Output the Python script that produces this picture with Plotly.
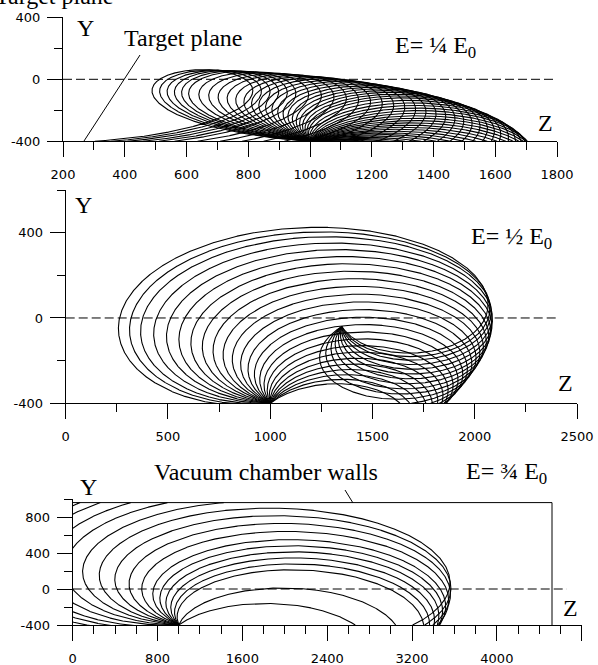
import numpy as np
import plotly.graph_objects as go

W, H = 598, 665

# ---------------- data ----------------
SOURCE_Z, SOURCE_Y = 1000, -400          # emission point on the target plane
TARGET_Y = -400

# panel 1 (E = 1/4 E0): emission angles (deg) and trajectory parameters
p1_angles = [10, 14, 18, 22, 26, 30, 34, 38, 42, 46, 50, 54, 58, 62, 66, 70, 74, 78,
             82, 86, 90, 94, 98, 101, 104, 107, 110, 113, 116, 119, 122, 125, 128, 131,
             134, 137, 140, 143, 146, 149, 152, 155, 158, 160, 162, 164, 166, 168]
p1_drift, p1_Lz, p1_Ly = 0.30, 540, 333

# panel 2 (E = 1/2 E0)
p2_angles = [56, 62, 68, 74, 80, 86, 92, 98, 104, 110, 116, 122, 128, 134, 140, 146,
             152, 158, 164, 170, 176, 182, 188, 193, 198]
p2_focus = (1350, -40)
p2_mu, p2_stretch, p2_vf, p2_tmax = 0.75, 2.0, 1.44, 1.0

# panel 3 (E = 3/4 E0)
p3_angles = [60, 80, 100, 106, 112, 118, 124, 130, 138, 146, 154, 162, 170,
             178, 186, 194, 200, 206, 212, 218]
p3_focus = (1420, 20)
p3_mu, p3_stretch, p3_vf, p3_tmax = 0.75, 2.0, 2.8, 1.0
wall_top_y, wall_right_z = 960, 4520

# axes: ranges and ticks
p1_xrange, p1_yrange = [200, 1800], [-400, 400]
p2_xrange, p2_yrange = [0, 2500], [-400, 600]
p3_xrange, p3_yrange = [0, 4800], [-400, 1000]
p1_xticks = [200, 400, 600, 800, 1000, 1200, 1400, 1600, 1800]
p2_xticks = [0, 500, 1000, 1500, 2000, 2500]
p3_xticks = [0, 800, 1600, 2400, 3200, 4000, 4800]
p1_yticks = [-400, 0, 400]
p2_yticks = [-400, 0, 400]
p3_yticks = [-400, 0, 400, 800]
p1_xminor = list(range(200, 1801, 100))
p2_xminor = list(range(0, 2501, 250))
p3_xminor = list(range(0, 4801, 200))
p1_yminor = [-400, -200, 0, 200, 400]
p2_yminor = [-400, -200, 0, 200, 400, 600]
p3_yminor = [-400, -200, 0, 200, 400, 600, 800, 1000]


# ---------------- trajectory helpers ----------------
def cut(Z, Y, zmax=None, ymax=None):
    above = np.maximum.accumulate(Y) > TARGET_Y + 5
    bad = (Y < TARGET_Y) & above
    if ymax is not None:
        bad |= Y > ymax
    if zmax is not None:
        bad |= Z > zmax
    bad[:2] = False
    idx = np.where(bad)[0]
    if len(idx) == 0:
        return Z, Y
    k = idx[0]
    z1, y1, z2, y2 = Z[k-1], Y[k-1], Z[k], Y[k]
    if ymax is not None and y2 > ymax:
        f = (ymax - y1) / (y2 - y1)
    elif zmax is not None and z2 > zmax:
        f = (zmax - z1) / (z2 - z1)
    else:
        f = (TARGET_Y - y1) / (y2 - y1)
    ze, ye = z1 + f*(z2-z1), y1 + f*(y2-y1)
    return np.append(Z[:k], ze), np.append(Y[:k], ye)


def trochoid_family(angles, d, Lz, Ly):
    t = np.linspace(0, 8, 3000)
    out = []
    for th in np.radians(angles):
        u0 = np.exp(1j*th) + d
        w = 1j*u0*(np.exp(-1j*t) - 1) - d*t
        out.append(cut(SOURCE_Z + Lz*w.real, SOURCE_Y + Ly*w.imag))
    return out


def linear_family(angles, mu, sz, vf, focus, tmax, zmax=None, ymax=None):
    Pn = complex(SOURCE_Z/sz, SOURCE_Y)
    Fn = complex(focus[0]/sz, focus[1])
    ea = np.exp(1j*(np.pi - 2*np.pi*mu))
    C = (Fn - ea*Pn)/(1 - ea)
    z0 = Pn - C
    v = vf*mu*abs(z0)
    t = np.linspace(0, 2*np.pi*tmax, 5000)
    out = []
    for th in np.radians(angles):
        U = 2*(v*np.exp(1j*th) + 1j*mu*z0)
        z = C + np.exp(-1j*mu*t)*(z0*np.cos(t/2) + U*np.sin(t/2))
        out.append(cut(z.real*sz, z.imag, zmax, ymax))
    return out


# ---------------- figure ----------------
fig = go.Figure()

doms = {
    1: dict(x=[63, 557], y=[17.3, 141.3]),
    2: dict(x=[65.7, 577], y=[190, 403.3]),
    3: dict(x=[72.7, 581.7], y=[499, 625]),
}

def ax_names(i):
    return ("x" if i == 1 else f"x{i}", "y" if i == 1 else f"y{i}")

LINE = dict(color="black", width=1.1)

def add_family(i, fam):
    xa, ya = ax_names(i)
    for Z, Y in fam:
        fig.add_trace(go.Scatter(x=Z, y=Y, mode="lines", line=LINE, xaxis=xa, yaxis=ya,
                                 showlegend=False, hoverinfo="skip"))

add_family(1, trochoid_family(p1_angles, p1_drift, p1_Lz, p1_Ly))
add_family(2, linear_family(p2_angles, p2_mu, p2_stretch, p2_vf, p2_focus, p2_tmax))
add_family(3, linear_family(p3_angles, p3_mu, p3_stretch, p3_vf, p3_focus, p3_tmax,
                            zmax=wall_right_z, ymax=wall_top_y))

# dashed axis lines Y = 0
for i, zs, zend in [(1, 200, 1800), (2, 0, 2410), (3, 0, 4660)]:
    xa, ya = ax_names(i)
    fig.add_trace(go.Scatter(x=[zs, zend], y=[0, 0], mode="lines", xaxis=xa, yaxis=ya,
                             line=dict(color="black", width=1, dash="9px,4px"),
                             showlegend=False, hoverinfo="skip", cliponaxis=False))

# vacuum chamber walls
fig.add_trace(go.Scatter(x=[0, wall_right_z, wall_right_z], y=[wall_top_y, wall_top_y, TARGET_Y],
                         mode="lines", xaxis="x3", yaxis="y3", line=dict(color="black", width=1),
                         showlegend=False, hoverinfo="skip", cliponaxis=False))

AXFONT = dict(family="DejaVu Sans", size=13, color="black")

def style_axes(i, xr, yr, xt, yt, xm, ym):
    d = doms[i]
    xkey = "xaxis" if i == 1 else f"xaxis{i}"
    ykey = "yaxis" if i == 1 else f"yaxis{i}"
    xa, ya = ax_names(i)
    common = dict(showline=True, linecolor="black", linewidth=1, showgrid=False, zeroline=False,
                  ticks="outside", ticklen=15, tickwidth=1, tickcolor="black",
                  tickmode="array", tickfont=AXFONT, automargin=False, fixedrange=True)
    fig.update_layout(**{
        xkey: dict(domain=[d["x"][0]/W, d["x"][1]/W], range=xr, anchor=ya,
                   tickvals=xt, ticktext=[str(v) for v in xt], ticklabelstandoff=6,
                   minor=dict(ticks="outside", ticklen=8, tickwidth=1, tickcolor="black",
                              tickmode="array", tickvals=xm, showgrid=False), **common),
        ykey: dict(domain=[1 - d["y"][1]/H, 1 - d["y"][0]/H], range=yr, anchor=xa,
                   tickvals=yt, ticktext=[str(v) for v in yt], ticklabelstandoff=4,
                   minor=dict(ticks="outside", ticklen=8, tickwidth=1, tickcolor="black",
                              tickmode="array", tickvals=ym, showgrid=False), **common),
    })

style_axes(1, p1_xrange, p1_yrange, p1_xticks, p1_yticks, p1_xminor, p1_yminor)
style_axes(2, p2_xrange, p2_yrange, p2_xticks, p2_yticks, p2_xminor, p2_yminor)
style_axes(3, p3_xrange, p3_yrange, p3_xticks, p3_yticks, p3_xminor, p3_yminor)

SERIF = "Liberation Serif"

def label(text, x, y, size=24, xanchor="center"):
    fig.add_annotation(text=text, x=x/W, y=1 - y/H, xref="paper", yref="paper",
                       xanchor=xanchor, yanchor="middle", showarrow=False,
                       font=dict(family=SERIF, size=size, color="black"))

label("Target plane", 116, -4, xanchor="right")
label("Y", 85, 28)
label("Target plane", 183, 38)
label("E= ¼ E<sub>0</sub>", 435, 47)
label("Z", 545, 123)
label("Y", 83, 205)
label("E= ½ E<sub>0</sub>", 511, 238)
label("Z", 565, 383)
label("Vacuum chamber walls", 266, 472)
label("E= ¾ E<sub>0</sub>", 506, 473)
label("Z", 570, 608)
label("Y", 88, 487)

def pline(x0, y0, x1, y1):
    fig.add_shape(type="line", xref="paper", yref="paper", x0=x0/W, y0=1 - y0/H,
                  x1=x1/W, y1=1 - y1/H, line=dict(color="black", width=1))

pline(84, 141, 140, 55)
pline(345, 490, 353, 503)

fig.update_layout(width=W, height=H, margin=dict(l=0, r=0, t=0, b=0, autoexpand=False),
                  plot_bgcolor="white", paper_bgcolor="white", showlegend=False)
fig.write_html("out.html", config={"displayModeBar": False},
               post_script="document.body.style.margin='0';document.body.style.overflow='hidden';")
